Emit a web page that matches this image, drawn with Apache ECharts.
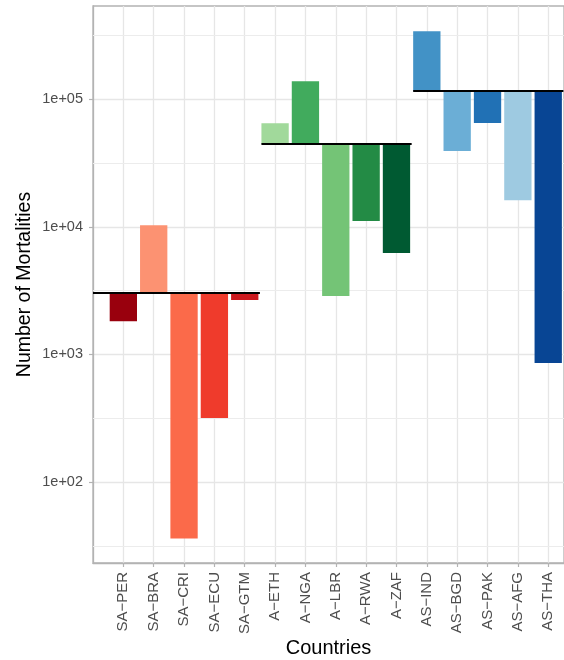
<!DOCTYPE html>
<html>
<head>
<meta charset="utf-8">
<script src="https://cdn.jsdelivr.net/npm/echarts@6/dist/echarts.min.js"></script>
<style>
  html, body { margin: 0; padding: 0; background: #fff; }
  #chart { width: 564px; height: 660px; }
</style>
</head>
<body>
<div id="chart"></div>
<script>
// 国家分类 (1-based 位置)
const categories = ['SA−PER', 'SA−BRA', 'SA−CRI', 'SA−ECU', 'SA−GTM',
                    'A−ETH', 'A−NGA', 'A−LBR', 'A−RWA', 'A−ZAF',
                    'AS−IND', 'AS−BGD', 'AS−PAK', 'AS−AFG', 'AS−THA'];
// 死亡人数
const mortalities = [1820, 10300, 36, 318, 2670,
                     64900, 138400, 2870, 11100, 6240,
                     341000, 39400, 65200, 16150, 857];
// 每个国家所属的组
const groupOf = [0, 0, 0, 0, 0, 1, 1, 1, 1, 1, 2, 2, 2, 2, 2];
// 每组的基准线 (黑色横线)
const groupBaselines = [3030, 44700, 116000];
// y 轴刻度
const majorBreaks = [100, 1000, 10000, 100000];
const minorBreaks = [31.62, 316.2, 3162, 31620, 316200];

const barColors = ['#99000d', '#fc9272', '#fb6a4a', '#ef3b2c', '#cb181d',
                   '#a1d99b', '#41ab5d', '#74c476', '#238b45', '#005a32',
                   '#4292c6', '#6baed6', '#2171b5', '#9ecae1', '#084594'];

const FONT = 'Liberation Sans, Arial, Helvetica, sans-serif';

// 柱子数据: [x, 基准, 值, 索引]
const barData = mortalities.map((v, i) => [i + 1, groupBaselines[groupOf[i]], v, i]);

// 组横线: [起点, 终点, 基准]
const segData = groupBaselines.map((b, g) => {
    const idx = groupOf.map((x, i) => x === g ? i + 1 : null).filter(x => x !== null);
    const first = Math.min(...idx);
    const last = Math.max(...idx);
    return [g === 0 ? 0 : first - 0.45, last + 0.5, b];
});

const chart = echarts.init(document.getElementById('chart'));

chart.setOption({
    animation: false,
    backgroundColor: '#fff',
    grid: {
        left: 93, right: 0, top: 6, bottom: 97,
        outerBoundsMode: 'none',
        containLabel: false,
        show: true,
        borderColor: '#b3b3b3',
        borderWidth: 1.3
    },
    xAxis: {
        type: 'value',
        min: 0,
        max: 15.52,
        interval: 1,
        name: 'Countries',
        nameLocation: 'middle',
        nameMoveOverlap: false,
        nameGap: 75,
        nameTextStyle: { fontSize: 20, color: '#000', fontFamily: FONT },
        axisLine: { show: true, lineStyle: { color: '#b3b3b3', width: 1.3 } },
        axisTick: {
            show: true, length: 4,
            customValues: categories.map((c, i) => i + 1),
            lineStyle: { color: '#b3b3b3', width: 1.2 }
        },
        axisLabel: {
            rotate: 90,
            margin: 9,
            fontSize: 15,
            color: '#4d4d4d',
            fontFamily: FONT,
            customValues: categories.map((c, i) => i + 1),
            formatter: v => categories[Math.round(v) - 1] || ''
        },
        splitLine: { show: true, lineStyle: { color: '#e6e6e6', width: 1.3 } }
    },
    yAxis: {
        type: 'log',
        logBase: 10,
        min: 23.17,
        max: 538700,
        name: 'Number of Mortalities',
        nameLocation: 'middle',
        nameMoveOverlap: false,
        nameGap: 58,
        nameTextStyle: { fontSize: 19.5, color: '#000', fontFamily: FONT },
        axisLine: { show: true, lineStyle: { color: '#b3b3b3', width: 1.3 } },
        axisTick: {
            show: true, length: 4,
            customValues: majorBreaks,
            lineStyle: { color: '#b3b3b3', width: 1.2 }
        },
        axisLabel: {
            margin: 10,
            fontSize: 14.5,
            color: '#4d4d4d',
            fontFamily: FONT,
            customValues: majorBreaks,
            formatter: v => {
                const l = Math.log10(v);
                if (Math.abs(l - Math.round(l)) > 1e-6) return '';
                return '1e+' + String(Math.round(l)).padStart(2, '0');
            }
        },
        splitLine: { show: true, lineStyle: { color: '#e6e6e6', width: 1.3 } }
    },
    series: [
        {
            // 次网格线
            type: 'line',
            data: [],
            z: 1,
            silent: true,
            markLine: {
                silent: true,
                z: 1,
                symbol: 'none',
                label: { show: false },
                lineStyle: { color: '#ececec', width: 1, type: 'solid' },
                data: minorBreaks.map(v => ({ yAxis: v }))
            }
        },
        {
            type: 'custom',
            z: 10,
            data: barData,
            renderItem: function (params, api) {
                const x = api.value(0);
                const base = api.value(1);
                const val = api.value(2);
                const p1 = api.coord([x, base]);
                const p2 = api.coord([x, val]);
                const left = api.coord([x - 0.45, base])[0];
                const right = api.coord([x + 0.45, base])[0];
                return {
                    type: 'rect',
                    shape: {
                        x: left,
                        y: Math.min(p1[1], p2[1]),
                        width: right - left,
                        height: Math.abs(p2[1] - p1[1])
                    },
                    style: { fill: barColors[api.value(3)] }
                };
            }
        },
        {
            type: 'custom',
            z: 11,
            data: segData,
            renderItem: function (params, api) {
                const a = api.coord([api.value(0), api.value(2)]);
                const b = api.coord([api.value(1), api.value(2)]);
                return {
                    type: 'line',
                    shape: { x1: a[0], y1: a[1], x2: b[0], y2: b[1] },
                    style: { stroke: '#000', lineWidth: 2 }
                };
            }
        }
    ]
});
</script>
</body>
</html>
